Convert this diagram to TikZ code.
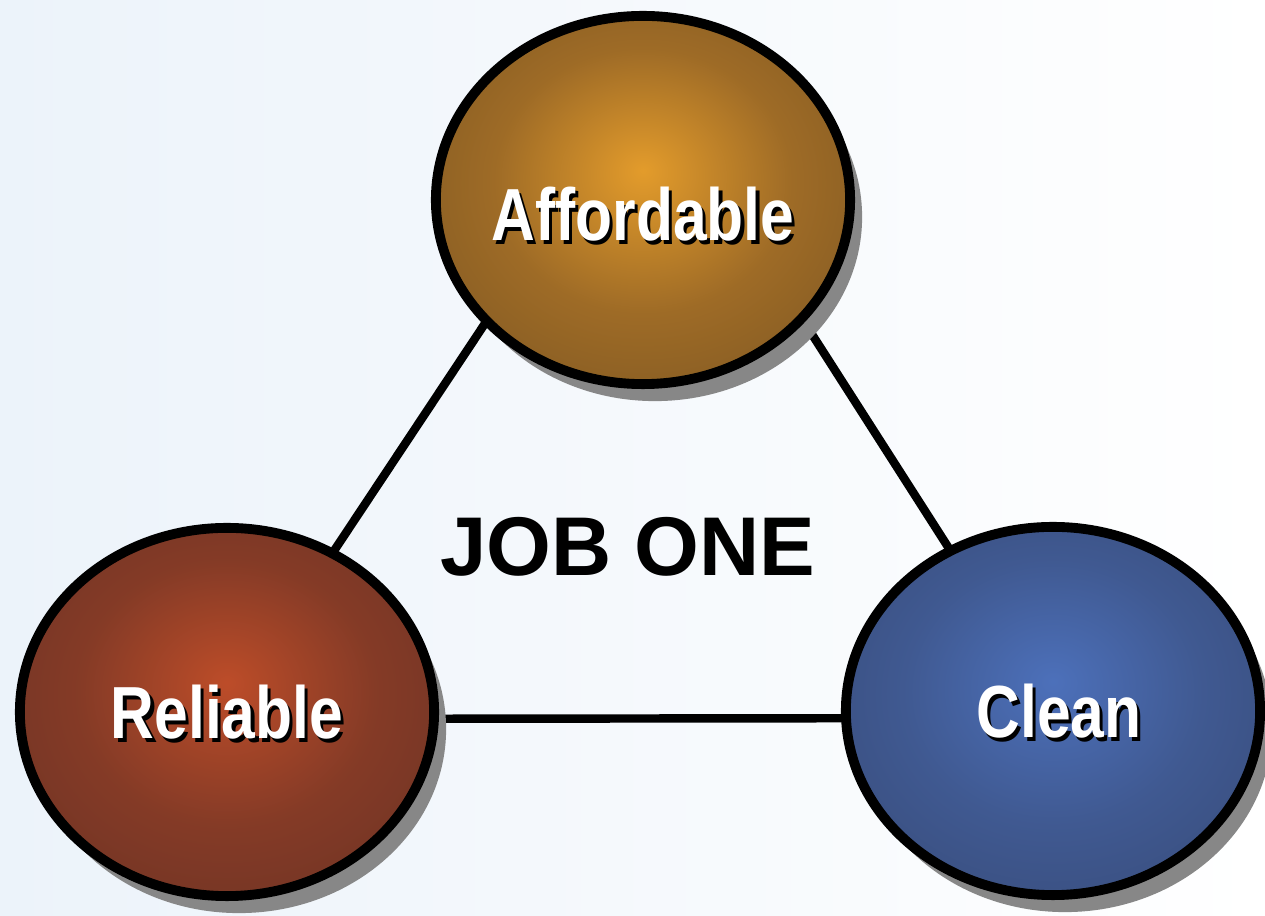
\documentclass[tikz,border=0pt]{standalone}
\usepackage{fontspec}
\setmainfont{Liberation Sans}
\newfontfamily\narrowsans{Liberation Sans}[FakeStretch=0.82]
\usetikzlibrary{shapes.geometric,shadows,backgrounds}

\definecolor{bgblue}{RGB}{236,243,250}
\definecolor{shadowgray}{RGB}{135,135,135}

\pgfdeclareradialshading{affshade}{\pgfpoint{0bp}{4bp}}{rgb(0bp)=(0.89,0.61,0.17); rgb(18bp)=(0.62,0.42,0.15); rgb(40bp)=(0.46,0.32,0.13); rgb(50bp)=(0.44,0.31,0.13)}
\pgfdeclareradialshading{relshade}{\pgfpoint{0bp}{4bp}}{rgb(0bp)=(0.74,0.30,0.16); rgb(18bp)=(0.52,0.23,0.15); rgb(40bp)=(0.40,0.19,0.14); rgb(50bp)=(0.38,0.19,0.14)}
\pgfdeclareradialshading{clnshade}{\pgfpoint{0bp}{4bp}}{rgb(0bp)=(0.30,0.44,0.73); rgb(18bp)=(0.25,0.35,0.57); rgb(40bp)=(0.21,0.28,0.45); rgb(50bp)=(0.20,0.27,0.43)}

\newcommand{\shadowtext}[1]{\makebox[0pt][l]{\hspace{0.9pt}\raisebox{-1.1pt}{\color{black}#1}}\textcolor{white}{#1}}

\tikzset{
  ball/.style={ellipse, draw=black, line width=2.8pt,
    minimum width=4.14cm, minimum height=3.68cm, inner sep=0pt,
    drop shadow={shadow xshift=0.12cm, shadow yshift=-0.17cm, fill=shadowgray, opacity=1}},
  balltext/.style={font=\narrowsans\bfseries\fontsize{21}{25}\selectfont,
    text height=15pt, text depth=0pt, inner sep=0pt},
  tie/.style={line width=2.4pt}
}

\begin{document}
\begin{tikzpicture}[x=0.01cm, y=-0.01cm]
    \useasboundingbox (0,0) rectangle (1265,916);

    \node[ball, shading=affshade, label={[balltext, yshift=-0.14cm]center:\shadowtext{Affordable}}] (aff) at (643,200) {};
    \node[ball, shading=relshade, label={[balltext]center:\shadowtext{Reliable}}] (rel) at (227,712) {};
    \node[ball, shading=clnshade, label={[balltext, xshift=0.06cm]center:\shadowtext{Clean}}] (cln) at (1053,711) {};

    \node[font=\bfseries\fontsize{23.7}{28}\selectfont, text height=17pt, text depth=0pt] (job) at (628,546) {JOB ONE};

    \coordinate (apex) at (648,78);

    \begin{scope}[on background layer]
        \fill[left color=bgblue, right color=white] (0,0) rectangle (1265,916);
        \draw[tie] (apex) -- (rel.center);
        \draw[tie] (apex) -- (cln.center);
        \draw[tie] ([yshift=-0.07cm]rel.center) -- ([yshift=-0.07cm]cln.center);
    \end{scope}
\end{tikzpicture}
\end{document}
